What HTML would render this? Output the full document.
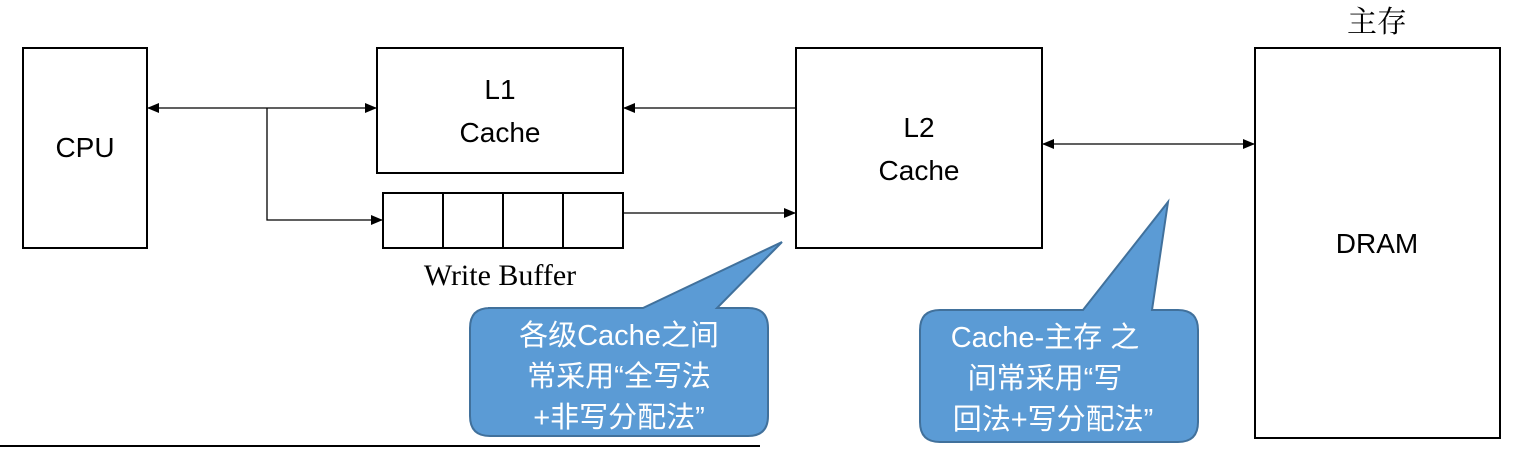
<!DOCTYPE html>
<html><head><meta charset="utf-8"><style>
body{margin:0;background:#fff;width:1528px;height:448px;overflow:hidden}
</style></head><body>
<svg width="1528" height="448" viewBox="0 0 1528 448" xmlns="http://www.w3.org/2000/svg">
<defs>
<marker id="a" markerWidth="12" markerHeight="10" refX="11" refY="5" orient="auto-start-reverse" markerUnits="userSpaceOnUse">
<path d="M0,0 L12,5 L0,10 z" fill="#000"/></marker>
</defs>
<g fill="none" stroke="#000" stroke-width="2">
<rect x="23" y="48" width="124" height="200"/>
<rect x="377" y="48" width="246" height="125"/>
<rect x="383" y="193" width="240" height="55"/>
<line x1="443" y1="193" x2="443" y2="248"/>
<line x1="503" y1="193" x2="503" y2="248"/>
<line x1="563" y1="193" x2="563" y2="248"/>
<rect x="796" y="48" width="246" height="200"/>
<rect x="1255" y="48" width="245" height="390"/>
</g>
<g stroke="#000" stroke-width="1.3" fill="none">
<line x1="148" y1="108" x2="376" y2="108" marker-start="url(#a)" marker-end="url(#a)"/>
<polyline points="267,108 267,220 382,220" marker-end="url(#a)"/>
<line x1="796" y1="108" x2="624" y2="108" marker-end="url(#a)"/>
<line x1="623" y1="213" x2="795" y2="213" marker-end="url(#a)"/>
<line x1="1043" y1="144" x2="1254" y2="144" marker-start="url(#a)" marker-end="url(#a)"/>
</g>
<line x1="0" y1="446" x2="760" y2="446" stroke="#000" stroke-width="2"/>
<g font-family="Liberation Sans, sans-serif" font-size="28" text-anchor="middle" fill="#000">
<text x="85" y="157">CPU</text>
<text x="500" y="99">L1</text>
<text x="500" y="142">Cache</text>
<text x="919" y="137">L2</text>
<text x="919" y="180">Cache</text>
<text x="1377" y="253">DRAM</text>
</g>
<text x="500" y="285" font-family="Liberation Serif, serif" font-size="30" text-anchor="middle">Write Buffer</text>
<text x="1377" y="32" font-family="Liberation Serif, 'Noto Serif CJK SC', serif" font-size="30" text-anchor="middle">主存</text>
<g fill="#5b9bd5" stroke="#41719c" stroke-width="2">
<path d="M488,308 L643,308 L782,242 L717,308 L748,308 Q768,308 768,328 L768,416 Q768,436 748,436 L490,436 Q470,436 470,416 L470,328 Q470,308 490,308 Z"/>
<path d="M940,310 L1083,310 L1168,202 L1152,310 L1178,310 Q1198,310 1198,330 L1198,422 Q1198,442 1178,442 L940,442 Q920,442 920,422 L920,330 Q920,310 940,310 Z"/>
</g>
<g font-family="Liberation Sans, 'Noto Sans CJK SC', sans-serif" font-size="29" fill="#fff" text-anchor="middle">
<text x="619" y="345">各级Cache之间</text>
<text x="619" y="386">常采用“全写法</text>
<text x="619" y="427">+非写分配法”</text>
<text x="1045" y="347">Cache-主存 之</text>
<text x="1045" y="388">间常采用“写</text>
<text x="1053" y="429">回法+写分配法”</text>
</g>
</svg>
</body></html>
